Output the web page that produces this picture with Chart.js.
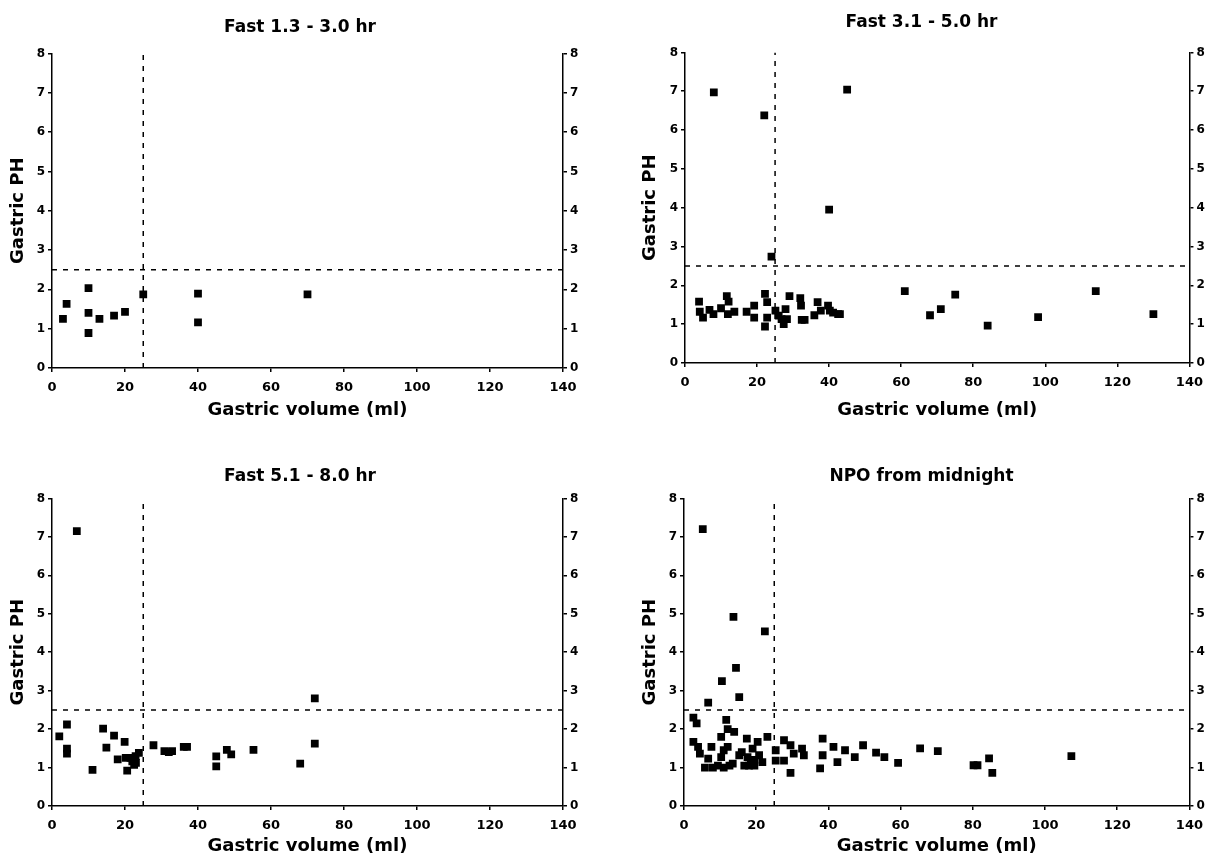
<!DOCTYPE html>
<html>
<head>
<meta charset="utf-8">
<script src="https://cdn.jsdelivr.net/npm/chart.js@4.4.1/dist/chart.umd.min.js"></script>
<style>
  body { margin: 0; background: #fff; width: 1211px; height: 867px; position: relative; overflow: hidden; }
  canvas { position: absolute; }
</style>
</head>
<body>
<canvas id="p1" width="600" height="430" style="left:0;top:0"></canvas>
<canvas id="p2" width="579" height="430" style="left:632px;top:0"></canvas>
<canvas id="p3" width="600" height="427" style="left:0;top:440px"></canvas>
<canvas id="p4" width="579" height="427" style="left:632px;top:440px"></canvas>
<script>
// [gastric volume (ml), gastric pH]
const fast13 = [[3,1.25],[4,1.63],[10,2.03],[10,1.4],[10,0.89],[13,1.25],[17,1.33],[20,1.43],
  [25,1.87],[40,1.89],[40,1.16],[70,1.87]];

const fast31 = [[8,6.97],[22,6.38],[45,7.04],[40,3.95],
  [3.9,1.58],[4.1,1.32],[5,1.17],[6.8,1.37],[7.9,1.26],[10,1.41],[11.6,1.72],[12.1,1.58],
  [11.9,1.26],[13.7,1.32],[17.1,1.32],[19.2,1.48],[19.2,1.17],[22.2,1.78],[22.2,0.94],
  [22.8,1.57],[22.8,1.17],[24,2.74],[25.1,1.35],[26,1.22],[26.8,1.13],[27.4,1.0],[27.9,1.39],
  [29,1.72],[28.3,1.13],[32,1.67],[32.2,1.48],[32.4,1.11],[33.2,1.11],[35.9,1.23],[36.8,1.57],
  [37.7,1.35],[39.7,1.48],[40.2,1.35],[41.1,1.3],[42.5,1.26],[43,1.26],
  [61,1.85],[68,1.23],[71,1.39],[75,1.76],[84,0.96],[98,1.18],[114,1.85],[130,1.26]];

const fast51 = [[6.8,7.15],[2,1.81],[4.1,2.12],[4.1,1.49],[4.1,1.36],[11.1,0.94],[14,2.01],
  [14.9,1.52],[17,1.83],[18,1.21],[19.9,1.67],[20.6,0.92],[20.2,1.25],[21.5,1.25],[22,1.16],
  [22.5,1.07],[22.9,1.3],[23.8,1.38],[23,1.12],[27.8,1.58],[30.8,1.43],[32,1.4],[32.9,1.43],
  [36.1,1.54],[37,1.54],[45,1.29],[45,1.03],[47.9,1.46],[49.1,1.34],[55.2,1.46],
  [68,1.1],[72,1.62],[72,2.8]];

const npo = [[5.2,7.2],[13.7,4.92],[22.4,4.54],[14.4,3.59],[10.5,3.25],[15.3,2.83],[6.7,2.69],
  [2.6,2.3],[3.5,2.15],[2.6,1.67],[3.9,1.54],[4.4,1.36],[5.8,1.0],[6.7,1.23],[7.6,1.54],
  [8,1.0],[9.4,1.05],[10.3,1.8],[10.3,1.27],[11.7,2.24],[12.1,2.0],[12.1,1.54],[12.6,1.05],
  [11,1.0],[11,1.45],[13.5,1.1],[16,1.4],[18,1.05],[19.5,1.2],
  [13.9,1.93],[15.3,1.32],[16.7,1.05],[17.4,1.75],[17.6,1.27],[18.5,1.14],[19,1.49],
  [19.5,1.05],[20.4,1.67],[20.8,1.32],[21.7,1.14],[23.1,1.8],[25.4,1.45],[25.4,1.18],
  [27.7,1.18],[27.7,1.71],[29.5,1.58],[29.5,0.86],[30.4,1.36],[32.7,1.49],[33.2,1.32],
  [37.7,0.98],[38.4,1.75],[38.4,1.32],[41.4,1.54],[42.5,1.14],[44.6,1.45],[47.3,1.27],
  [49.6,1.58],[53.2,1.39],[55.5,1.27],[59.3,1.12],[65.4,1.5],[70.3,1.43],[80.2,1.06],
  [81.3,1.06],[84.5,1.24],[85.4,0.86],[107.3,1.3]];

const panelTitles = ["Fast 1.3 - 3.0 hr", "Fast 3.1 - 5.0 hr", "Fast 5.1 - 8.0 hr", "NPO from midnight"];
const xTitle = "Gastric volume (ml)";
const yTitle = "Gastric PH";
const xMax = 140, xStep = 20;
const yMax = 8, yStep = 1;
const volCutoff = 25;
const phCutoff = 2.5;

const FONT = "'DejaVu Sans', sans-serif";

function makePanel(id, title, points, box) {
    const ctx = document.getElementById(id).getContext("2d");
    const axisGrid = { drawOnChartArea: false, color: "#000", tickLength: 4, lineWidth: 1.5 };
    const axisBorder = { display: true, color: "#000", width: 1.5 };
    const yTicks = { stepSize: yStep, color: "#000", padding: 3, font: { family: FONT, size: 12, weight: "bold" } };

    return new Chart(ctx, {
        type: "scatter",
        data: {
            datasets: [
                {
                    data: points.map(p => ({ x: p[0], y: p[1] })),
                    pointStyle: "rect",
                    pointRadius: 5.5,
                    backgroundColor: "#000",
                    borderColor: "#000",
                    borderWidth: 0,
                    order: 0
                },
                {
                    data: [{ x: volCutoff, y: 0 }, { x: volCutoff, y: yMax }],
                    showLine: true,
                    borderColor: "#000",
                    borderWidth: 1.5,
                    borderDash: [5, 6],
                    pointRadius: 0,
                    order: 1
                },
                {
                    data: [{ x: 0, y: phCutoff }, { x: xMax, y: phCutoff }],
                    showLine: true,
                    borderColor: "#000",
                    borderWidth: 1.5,
                    borderDash: [5, 6],
                    pointRadius: 0,
                    order: 1
                }
            ]
        },
        options: {
            responsive: false,
            animation: false,
            layout: { padding: 0 },
            plugins: {
                legend: { display: false },
                tooltip: { enabled: false },
                title: {
                    display: true,
                    text: title,
                    color: "#000",
                    font: { family: FONT, size: 17, weight: "bold" },
                    padding: { top: box.titleTop, bottom: box.titleBottom }
                }
            },
            scales: {
                x: {
                    type: "linear",
                    min: 0,
                    max: xMax,
                    grid: axisGrid,
                    border: axisBorder,
                    ticks: { stepSize: xStep, color: "#000", padding: 8, maxRotation: 0,
                        font: { family: FONT, size: 13, weight: "bold" } },
                    title: { display: true, text: xTitle, color: "#000",
                        font: { family: FONT, size: 18, weight: "bold" },
                        padding: { top: 0, bottom: box.xTitlePad } },
                    afterFit: s => { s.height = box.bottom; }
                },
                y: {
                    position: "left",
                    min: 0,
                    max: yMax,
                    grid: axisGrid,
                    border: axisBorder,
                    ticks: yTicks,
                    title: { display: true, text: yTitle, color: "#000",
                        font: { family: FONT, size: 18, weight: "bold" },
                        padding: { top: 8, bottom: 0 } },
                    afterFit: s => { s.width = box.left; }
                },
                y2: {
                    position: "right",
                    min: 0,
                    max: yMax,
                    grid: axisGrid,
                    border: axisBorder,
                    ticks: yTicks,
                    afterFit: s => { s.width = box.right; }
                }
            }
        }
    });
}

makePanel("p1", panelTitles[0], fast13, { left: 52, right: 37, bottom: 62, titleTop: 17, titleBottom: 16, xTitlePad: 9 });
makePanel("p2", panelTitles[1], fast31, { left: 53, right: 16, bottom: 67, titleTop: 12, titleBottom: 20, xTitlePad: 9 });
makePanel("p3", panelTitles[2], fast51, { left: 52, right: 37, bottom: 61, titleTop: 26, titleBottom: 12, xTitlePad: 10 });
makePanel("p4", panelTitles[3], npo, { left: 52, right: 16, bottom: 61, titleTop: 26, titleBottom: 12, xTitlePad: 10 });
</script>
</body>
</html>
